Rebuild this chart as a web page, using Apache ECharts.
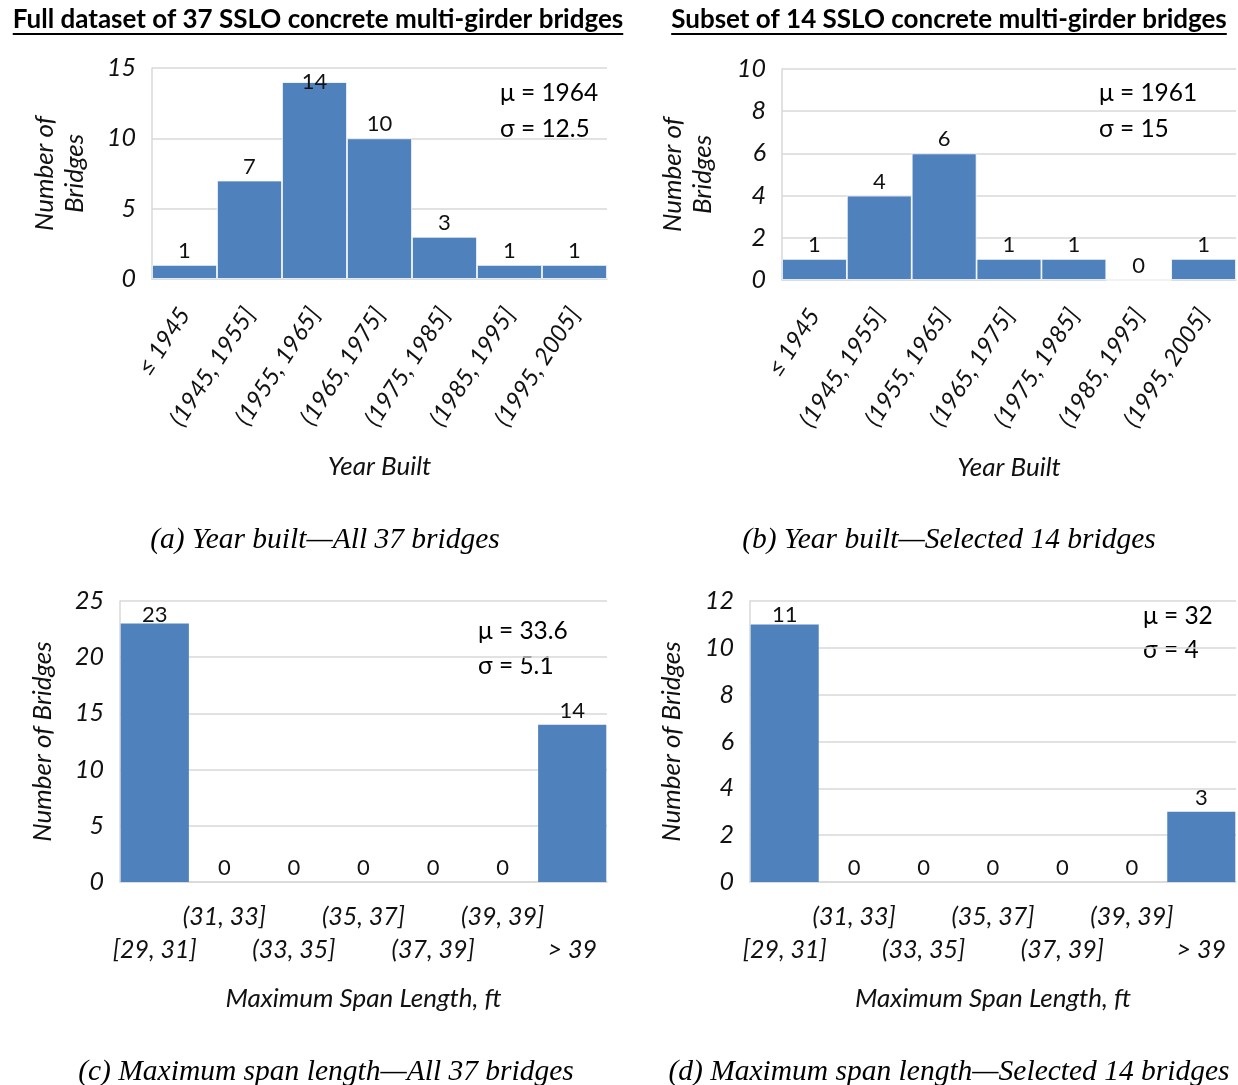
<!DOCTYPE html>
<html>
<head>
<meta charset="utf-8">
<script src="https://cdn.jsdelivr.net/npm/echarts@6/dist/echarts.min.js"></script>
<style>
html,body{margin:0;padding:0;background:#fff;}
#c{width:1238px;height:1085px;}
</style>
</head>
<body>
<div id="c"></div>
<script>
// ---------- DATA ----------
const yearCats = ['≤ 1945','(1945, 1955]','(1955, 1965]','(1965, 1975]','(1975, 1985]','(1985, 1995]','(1995, 2005]'];
const yearAll = [1, 7, 14, 10, 3, 1, 1];
const yearSel = [1, 4, 6, 1, 1, 0, 1];
const spanCats = ['[29, 31]','(31, 33]','(33, 35]','(35, 37]','(37, 39]','(39, 39]','> 39'];
const spanAll = [23, 0, 0, 0, 0, 0, 14];
const spanSel = [11, 0, 0, 0, 0, 0, 3];
const yMax = [15, 10, 25, 12];
const yStep = [5, 2, 5, 2];
const headings = ['Full dataset of 37 SSLO concrete multi-girder bridges','Subset of 14 SSLO concrete multi-girder bridges'];
const captions = ['(a) Year built—All 37 bridges','(b) Year built—Selected 14 bridges','(c) Maximum span length—All 37 bridges','(d) Maximum span length—Selected 14 bridges'];
const stats = [['μ = 1964','σ = 12.5'],['μ = 1961','σ = 15'],['μ = 33.6','σ = 5.1'],['μ = 32','σ = 4']];
const xNames = ['Year Built','Year Built','Maximum Span Length, ft','Maximum Span Length, ft'];
const yNames = ['Number of\nBridges','Number of\nBridges','Number of Bridges','Number of Bridges'];

// ---------- LAYOUT ----------
const FONT = 'Lato';
const SERIF = '"Liberation Serif"';
const BLUE = '#4F81BD';
const GRID = '#D9D9D9';
const TXT = '#111';
const grids = [
  {left:152, top:68,  width:455, height:211},
  {left:782, top:69,  width:454, height:211},
  {left:120, top:601, width:487, height:281},
  {left:750, top:601, width:486, height:281}
];
const statPos = [[500,94],[1099,94],[478,632],[1143,617]];
const statGap = [36,36,35,34];
const yNameGap = [62,64,62,63];
const headCenters = [318, 949];
const headSize = 26;

const allData = [yearAll, yearSel, spanAll, spanSel];
const allCats = [yearCats, yearCats, spanCats, spanCats];

const chart = echarts.init(document.getElementById('c'), null, {renderer:'canvas'});

function xAxisFor(i){
  const rotated = i < 2;
  return {
    type:'category', gridIndex:i, data:allCats[i],
    axisLine:{show:true, lineStyle:{color:GRID, width:1.5}},
    axisTick:{show:false},
    axisLabel: rotated ? {
      interval:0, rotate:57, margin:31, color:TXT,
      fontFamily:FONT, fontStyle:'italic', fontSize:24
    } : {
      interval:0, margin:18, color:TXT, lineHeight:33,
      fontFamily:FONT, fontStyle:'italic', fontSize:25,
      formatter:(v, idx) => idx % 2 === 0 ? '\n' + v : v
    },
    name:xNames[i], nameLocation:'middle', nameGap: rotated ? 175 : 104,
    nameTextStyle:{fontFamily:FONT, fontStyle:'italic', fontSize:26, color:TXT}
  };
}
function yAxisFor(i){
  return {
    type:'value', gridIndex:i, min:0, max:yMax[i], interval:yStep[i],
    axisLine:{show:true, lineStyle:{color:GRID, width:1.5}},
    axisTick:{show:false},
    splitLine:{show:true, lineStyle:{color:GRID, width:1.5}},
    axisLabel:{margin:16, color:TXT, fontFamily:FONT, fontStyle:'italic', fontSize:25},
    name:yNames[i], nameLocation:'middle', nameRotate:90, nameGap:yNameGap[i],
    nameTextStyle:{fontFamily:FONT, fontStyle:'italic', fontSize:26, color:TXT, lineHeight:30, align:'center'}
  };
}
function seriesFor(i){
  return {
    type:'bar', xAxisIndex:i, yAxisIndex:i,
    data:allData[i].map(v => ({value:v})),
    barCategoryGap: i < 2 ? '0%' : '2%',
    itemStyle:{color:BLUE, borderColor: i < 2 ? '#ffffff' : BLUE, borderWidth: i < 2 ? 0.8 : 0},
    label:{show:true, position:'top', distance:3, color:TXT, fontFamily:FONT, fontSize:22},
    silent:true, animation:false
  };
}

const titles = [];
headings.forEach((t, k) => {
  titles.push({text:t, left:headCenters[k], top:7, textAlign:'center', padding:0,
    textStyle:{fontFamily:FONT, fontWeight:'bold', fontSize:headSize, color:'#000'}});
});
const capCenters = [[325,539],[949,539],[326,1071],[949,1071]];
captions.forEach((t, k) => {
  titles.push({text:t, left:capCenters[k][0], top:capCenters[k][1]-14, textAlign:'center', padding:0,
    textStyle:{fontFamily:SERIF, fontStyle:'italic', fontWeight:'normal', fontSize:29.5, color:'#000'}});
});

// underline widths measured with the library's own text metrics
const graphics = [];
headings.forEach((t, k) => {
  const probe = new echarts.graphic.Text({style:{text:t, font:'bold ' + headSize + 'px ' + FONT}});
  const w = probe.getBoundingRect().width;
  const cx = headCenters[k];
  graphics.push({type:'line', shape:{x1:cx - w/2, y1:34, x2:cx + w/2, y2:34},
    style:{stroke:'#000', lineWidth:1.8}, silent:true});
});
stats.forEach((pair, k) => {
  pair.forEach((s, j) => {
    graphics.push({type:'text', left:statPos[k][0], top:statPos[k][1] + j*statGap[k] - 13,
      style:{text:s, fontFamily:FONT, fontSize:24.5, fill:'#000'}, silent:true});
  });
});

const option = {
  animation:false,
  backgroundColor:'#fff',
  title:titles,
  grid:grids.map(g => Object.assign({containLabel:false}, g)),
  xAxis:[0,1,2,3].map(xAxisFor),
  yAxis:[0,1,2,3].map(yAxisFor),
  series:[0,1,2,3].map(seriesFor),
  graphic:graphics
};
chart.setOption(option);

// keep value labels inside the plot area (as in the reference)
const newSeries = [0,1,2,3].map(i => ({
  data: allData[i].map((v, idx) => {
    const py = chart.convertToPixel({gridIndex:i}, [idx, v])[1];
    const natural = py - 15;
    const wanted = Math.max(natural, grids[i].top + 13);
    return {value:v, label:{offset:[0, wanted - natural]}};
  })
}));
chart.setOption({series:newSeries});
</script>
</body>
</html>
